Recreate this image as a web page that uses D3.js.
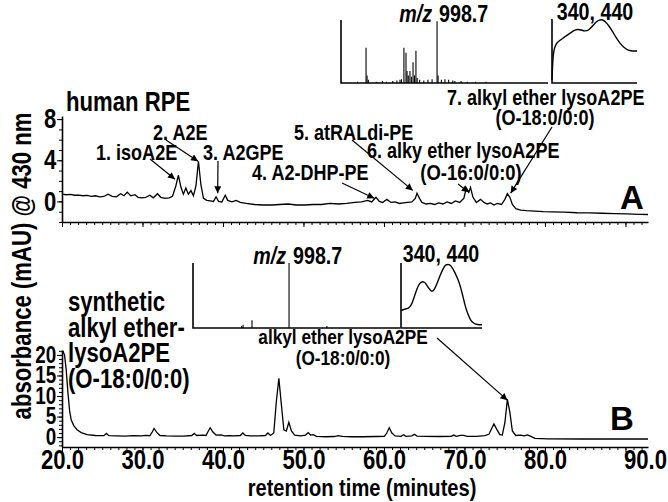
<!DOCTYPE html>
<html>
<head>
<meta charset="utf-8">
<script src="https://cdn.jsdelivr.net/npm/d3@7"></script>
<style>
	body { margin: 0; background: #fff; }
	svg { display: block; font-family: "Liberation Sans", Arial, sans-serif; font-weight: bold; }
</style>
</head>
<body>
<div id="wrapper"></div>
<script>
/////////////////////////////////////////////////
// data /////////////////////////////////////////
/////////////////////////////////////////////////

// [retention time (min), absorbance (mAU)]
const traceA = [
	[20.0, 0.70], [20.52, 0.65], [21.04, 0.68], [21.56, 0.6], [22.08, 0.62], [22.6, 0.55], [23.12, 0.58],
	[23.64, 0.5], [24.16, 0.55], [24.68, 0.45], [25.2, 0.48], [25.72, 0.7], [26.24, 0.5], [26.76, 0.45],
	[27.28, 0.75], [27.7, 0.55], [28.11, 0.9], [28.53, 0.55], [29.05, 0.65], [29.46, 0.4], [29.88, 0.35],
	[30.4, 0.4], [30.92, 0.6], [31.34, 0.35], [31.86, 0.75], [32.27, 0.4], [32.79, 0.3], [33.31, 0.35],
	[33.73, 0.5], [34.14, 1.5], [34.46, 2.55], [34.77, 1.4], [35.08, 0.7], [35.39, 1.3], [35.7, 0.7],
	[36.02, 1.05], [36.33, 0.55], [36.64, 1.5], [36.95, 3.9], [37.26, 1.6], [37.58, 0.3], [37.99, 0.1],
	[38.41, 0.05], [38.82, 0.0], [39.14, 0.45], [39.45, 0.0], [39.86, -0.05], [40.28, 0.6], [40.59, 0.1],
	[41.11, -0.05], [41.63, 0.1], [42.15, -0.1], [42.88, -0.2], [43.92, -0.3], [44.96, -0.35], [46.0, -0.35],
	[47.04, -0.3], [48.08, -0.25], [49.12, -0.35], [50.16, -0.35], [51.2, -0.3], [52.24, -0.3], [53.28, -0.2],
	[54.32, -0.25], [55.36, -0.2], [56.4, -0.1], [57.23, -0.05], [57.96, 0.1], [58.48, -0.05], [59.0, 0.4],
	[59.42, 0.0], [59.83, -0.1], [60.35, 0.2], [60.87, -0.1], [61.39, -0.05], [61.91, -0.2], [62.43, -0.15],
	[62.95, -0.1], [63.47, -0.05], [63.89, 0.3], [64.1, 0.8], [64.41, 0.3], [64.72, -0.1], [65.24, -0.25],
	[65.76, -0.2], [66.28, -0.3], [66.8, -0.15], [67.32, -0.25], [67.84, -0.05], [68.36, -0.2], [68.88, 0.05],
	[69.4, -0.1], [69.92, 0.3], [70.23, 1.3], [70.54, 0.9], [70.75, 1.35], [71.06, 0.4], [71.48, -0.1],
	[72.0, 0.2], [72.42, -0.1], [72.83, -0.25], [73.25, -0.15], [73.66, -0.35], [74.08, -0.2], [74.6, -0.3],
	[75.02, 0.2], [75.33, 0.75], [75.64, 0.4], [75.95, -0.3], [76.37, -0.7], [76.99, -0.85], [77.72, -0.9],
	[78.76, -0.95], [79.8, -1.0], [80.84, -1.02], [82.4, -1.05], [83.96, -1.1], [85.52, -1.12], [87.08, -1.15],
	[88.64, -1.18], [90.2, -1.22], [91.76, -1.25], [92.8, -1.27]
];

const traceB = [
	[20.1, 21.0], [20.31, 20.0], [20.52, 16.5], [20.73, 11.0], [20.94, 6.5], [21.14, 4.2], [21.46, 2.8],
	[21.87, 1.8], [22.39, 1.1], [23.12, 0.6], [24.16, 0.4], [25.2, 0.35], [25.51, 0.9], [25.82, 0.35],
	[26.76, 0.3], [27.8, 0.25], [28.84, 0.35], [29.88, 0.3], [30.4, 0.45], [30.92, 0.35], [31.23, 1.3],
	[31.44, 2.1], [31.75, 1.2], [32.17, 0.4], [33.0, 0.3], [34.04, 0.25], [35.08, 0.25], [36.12, 0.4],
	[36.43, 0.9], [36.74, 0.4], [37.47, 0.5], [37.89, 0.4], [38.1, 1.2], [38.41, 2.3], [38.72, 1.3],
	[39.14, 0.5], [39.76, 0.55], [40.18, 0.3], [40.8, 0.35], [41.32, 0.3], [42.15, 0.4], [42.46, 1.0],
	[42.78, 0.4], [43.4, 0.3], [44.44, 0.3], [45.27, 0.4], [45.58, 1.0], [45.9, 0.4], [46.31, 1.0],
	[46.62, 8.5], [46.94, 14.3], [47.25, 8.0], [47.56, 1.8], [47.87, 1.5], [48.18, 3.6], [48.5, 1.5],
	[48.91, 0.5], [49.64, 0.3], [50.26, 0.5], [50.58, 1.1], [50.89, 0.5], [51.2, 0.6], [51.62, 0.2],
	[52.76, 0.1], [53.8, 0.15], [54.32, 0.35], [54.84, 0.2], [55.88, 0.1], [57.44, 0.1], [59.0, 0.15],
	[60.04, 0.2], [60.35, 1.0], [60.66, 2.3], [60.98, 1.0], [61.39, 0.3], [62.12, 0.2], [62.43, 0.6],
	[62.74, 0.2], [63.47, 0.3], [63.78, 0.7], [64.1, 0.25], [65.24, 0.2], [66.8, 0.15], [68.36, 0.2],
	[68.67, 0.5], [68.98, 0.2], [69.5, 0.45], [69.92, 0.45], [70.34, 0.2], [71.48, 0.2], [72.52, 0.35],
	[73.04, 0.7], [73.35, 2.0], [73.66, 3.2], [73.98, 2.0], [74.39, 0.6], [74.7, 0.5], [75.02, 3.5],
	[75.33, 9.2], [75.64, 6.0], [75.95, 1.5], [76.37, 0.4], [76.99, 0.5], [77.41, 0.3], [77.82, 0.55],
	[78.24, 0.2], [78.76, -0.3], [80.32, -0.4], [84.48, -0.45], [88.64, -0.45], [92.8, -0.45]
];

// mass spectra insets: [relative position along m/z axis (0-100), relative intensity]
const msA = [
	[8, 0.02], [12.1, 0.56], [12.6, 0.12], [13.2, 0.05], [17, 0.02], [20, 0.03], [22, 0.02],
	[25, 0.03], [27, 0.04], [28.5, 0.05], [29.2, 0.06], [30.4, 0.56], [31.4, 0.48], [31.9, 0.19],
	[32.5, 0.12], [33.3, 0.19], [34.0, 0.1], [34.8, 0.33], [35.5, 0.12], [36.2, 0.51], [36.8, 0.08],
	[38, 0.05], [40, 0.04], [42, 0.05], [44, 0.06], [46.4, 0.98], [46.9, 0.12], [48.5, 0.05],
	[50.2, 0.06], [52, 0.05], [54, 0.04], [55, 0.03], [58, 0.03], [61, 0.02], [65, 0.02], [70, 0.02]
];
const msB = [[23.5, 0.03], [24.2, 0.05], [28.5, 0.12], [46.4, 1.0], [64.7, 0.03]];

// UV-vis spectra insets: [wavelength (nm), relative absorbance]
const uvA = [
	[250, 0.05], [252, 0.25], [255, 0.45], [260, 0.55], [268, 0.62], [280, 0.66], [295, 0.7],
	[310, 0.74], [325, 0.78], [340, 0.82], [355, 0.84], [370, 0.83], [385, 0.81], [400, 0.82],
	[415, 0.88], [430, 0.95], [445, 0.99], [458, 0.99], [470, 0.96], [485, 0.89], [500, 0.8],
	[515, 0.7], [530, 0.62], [545, 0.56], [560, 0.52], [575, 0.5], [590, 0.5], [600, 0.5]
];
const uvB = [
	[250, 0.27], [265, 0.29], [280, 0.3], [292, 0.33], [305, 0.45], [318, 0.6], [330, 0.69],
	[343, 0.72], [355, 0.7], [368, 0.62], [380, 0.56], [392, 0.57], [405, 0.68], [418, 0.8],
	[432, 0.92], [445, 0.98], [458, 0.98], [470, 0.94], [482, 0.86], [495, 0.76], [507, 0.64],
	[518, 0.48], [528, 0.33], [540, 0.2], [552, 0.11], [565, 0.07], [580, 0.05], [600, 0.05]
];

// peak labels in panel A: [label, peak time, absorbance at arrow tip]
const peaksA = [
	["1. isoA2E", 34.04, 2.15],
	["2. A2E", 36.9, 3.9],
	["3. A2GPE", 39.34, 0.8],
	["4. A2-DHP-PE", 58.79, 0.3],
	["5. atRALdi-PE", 63.58, 1.07],
	["6. alky ether lysoA2PE", 70.54, 0.9],
	["7. alkyl ether lysoA2PE", 75.74, 0.8]
];
const peakB = ["alkyl ether lysoA2PE", 75.33, 9.0];

const xTicks = [20, 30, 40, 50, 60, 70, 80, 90];
const yTicksA = [0, 4, 8];
const yTicksB = [0, 5, 10, 15, 20];

/////////////////////////////////////////////////
// chart ////////////////////////////////////////
/////////////////////////////////////////////////

const createChart = () => {
	const width = 668;
	const height = 502;
	// the figure uses a condensed bold face, squeeze Liberation Sans to match
	const cond = 0.82;

	const svg = d3.select("#wrapper").append("svg")
		.attr("width", width)
		.attr("height", height);

	const defs = svg.append("defs");
	defs.append("marker")
		.attr("id", "head")
		.attr("viewBox", "0 0 10 10")
		.attr("refX", 10).attr("refY", 5)
		.attr("markerWidth", 9).attr("markerHeight", 7)
		.attr("markerUnits", "userSpaceOnUse")
		.attr("orient", "auto")
		.append("path")
		.attr("d", "M0,0L10,5L0,10z")
		.attr("fill", "#000");

	/////////////////////////////////////////////////
	// scales ///////////////////////////////////////
	/////////////////////////////////////////////////

	const xScale = d3.scaleLinear().domain([20, 92.8]).range([62, 648]);
	const yScaleA = d3.scaleLinear().domain([-2, 8.3]).range([222, 116]);
	const yScaleB = d3.scaleLinear().domain([-2.4, 21.2]).range([447, 350]);

	const line = (ys) => d3.line()
		.x((d) => xScale(d[0]))
		.y((d) => ys(d[1]));

	/////////////////////////////////////////////////
	// axes /////////////////////////////////////////
	/////////////////////////////////////////////////

	const styleTickText = (sel, size) =>
		sel.attr("font-size", size)
			.attr("font-family", "Liberation Sans, Arial, sans-serif")
			.attr("font-weight", "bold")
			.attr("fill", "#000");

	const drawAxes = (ys, yBottom, majorY, minorY, labelX, fontY) => {
		const g = svg.append("g");

		// x minor ticks
		g.append("g")
			.attr("transform", `translate(0,${yBottom})`)
			.call(d3.axisBottom(xScale).tickValues(d3.range(20, 93, 1)).tickSize(3).tickSizeOuter(0).tickFormat(""))
			.call((a) => a.select(".domain").attr("stroke-width", 1.6));

		const xMajor = g.append("g")
			.attr("transform", `translate(0,${yBottom})`)
			.call(d3.axisBottom(xScale).tickValues(xTicks).tickSize(5).tickSizeOuter(0)
				.tickFormat(labelX ? d3.format(".1f") : ""));
		xMajor.select(".domain").remove();
		styleTickText(xMajor.selectAll("text"), 27)
			.attr("y", 3)
			.attr("transform", `scale(${cond},1)`);
		// last label sits flush with the end of the axis
		xMajor.selectAll(".tick").filter((d) => d === 90).select("text")
			.attr("text-anchor", "end").attr("dx", 50);

		// y minor ticks
		g.append("g")
			.attr("transform", "translate(62,0)")
			.call(d3.axisLeft(ys).tickValues(minorY).tickSize(3).tickSizeOuter(0).tickFormat(""))
			.call((a) => a.select(".domain").attr("stroke-width", 1.6));

		const yMajor = g.append("g")
			.attr("transform", "translate(62,0)")
			.call(d3.axisLeft(ys).tickValues(majorY).tickSize(5).tickSizeOuter(0));
		yMajor.select(".domain").remove();
		styleTickText(yMajor.selectAll("text"), fontY)
			.attr("x", -7)
			.attr("transform", `scale(${cond},1)`);
	};

	drawAxes(yScaleA, 222, yTicksA, d3.range(-2, 9, 1), false, 27);
	drawAxes(yScaleB, 447, yTicksB, d3.range(-2, 22, 1), true, 23);

	/////////////////////////////////////////////////
	// traces ///////////////////////////////////////
	/////////////////////////////////////////////////

	svg.append("path")
		.datum(traceA)
		.attr("d", line(yScaleA))
		.attr("fill", "none")
		.attr("stroke", "#000")
		.attr("stroke-width", 1.3);

	svg.append("path")
		.datum(traceB)
		.attr("d", line(yScaleB))
		.attr("fill", "none")
		.attr("stroke", "#000")
		.attr("stroke-width", 1.3);

	/////////////////////////////////////////////////
	// insets ///////////////////////////////////////
	/////////////////////////////////////////////////

	const drawMS = (data, x0, x1, y0, y1) => {
		const xs = d3.scaleLinear().domain([0, 100]).range([x0, x1]);
		const ys = d3.scaleLinear().domain([0, 1]).range([y0, y1]);
		const g = svg.append("g");
		g.selectAll("line.stick")
			.data(data)
			.join("line")
			.attr("class", "stick")
			.attr("x1", (d) => xs(d[0])).attr("x2", (d) => xs(d[0]))
			.attr("y1", ys(0)).attr("y2", (d) => ys(d[1]))
			.attr("stroke", "#000").attr("stroke-width", 1.1);
		g.append("path")
			.attr("d", `M${x0},${y1}V${y0}H${x1}`)
			.attr("fill", "none").attr("stroke", "#000").attr("stroke-width", 1.6);
	};

	const drawUV = (data, x0, x1, y0, y1) => {
		const xs = d3.scaleLinear().domain([250, 600]).range([x0, x1]);
		const ys = d3.scaleLinear().domain([0, 1]).range([y0, y1]);
		const g = svg.append("g");
		g.append("path")
			.datum(data)
			.attr("d", d3.line().x((d) => xs(d[0])).y((d) => ys(d[1])).curve(d3.curveBasis))
			.attr("fill", "none").attr("stroke", "#000").attr("stroke-width", 1.4);
		g.append("path")
			.attr("d", `M${x0},${y1}V${y0}H${x1}`)
			.attr("fill", "none").attr("stroke", "#000").attr("stroke-width", 1.6);
	};

	drawMS(msA, 341, 548, 83, 20);
	drawUV(uvA, 552, 637, 83, 19);
	drawMS(msB, 193, 400, 328, 263);
	drawUV(uvB, 401, 482, 328, 263);

	/////////////////////////////////////////////////
	// text /////////////////////////////////////////
	/////////////////////////////////////////////////

	const label = (txt, x, y, size, anchor = "start", sx = cond) =>
		svg.append("text")
			.attr("transform", `translate(${x},${y}) scale(${sx},1)`)
			.attr("dy", "0.35em")
			.attr("font-size", size)
			.attr("text-anchor", anchor)
			.text(txt);

	// m/z label split around the base peak line
	const mz = (x, y, size) => {
		label("m/z", x - 4, y, size, "end").attr("font-style", "italic");
		label("998.7", x + 3, y, size);
	};

	mz(436, 14, 24);
	label("340, 440", 595, 12, 24, "middle");
	mz(290, 256, 24);
	label("340, 440", 441, 254, 24, "middle");

	// axis titles
	svg.append("text")
		.attr("transform", `translate(22,266) rotate(-90) scale(${cond},1)`)
		.attr("dy", "0.35em")
		.attr("font-size", 27)
		.attr("text-anchor", "middle")
		.text("absorbance (mAU) @ 430 nm");
	label("retention time (minutes)", 362, 487, 24.5, "middle");

	label("human RPE", 66, 102, 27);
	label("A", 632, 197, 33, "middle", 1);
	label("B", 622, 418, 33, "middle", 1);

	// panel A annotations
	const annA = [
		{ x: 96, y: 152, tail: [150, 159] },
		{ x: 153, y: 132, tail: [166, 140] },
		{ x: 203, y: 152, tail: [218, 161] },
		{ x: 252, y: 172, tail: [342, 183] },
		{ x: 294, y: 132, tail: [352, 140] },
		{ x: 367, y: 150, tail: [458, 184] },
		{ x: 447, y: 97, tail: [552, 127] }
	];
	peaksA.forEach((p, i) => {
		const a = annA[i];
		label(p[0], a.x, a.y, 22);
		svg.append("line")
			.attr("x1", a.tail[0]).attr("y1", a.tail[1])
			.attr("x2", xScale(p[1])).attr("y2", yScaleA(p[2]))
			.attr("stroke", "#000").attr("stroke-width", 1.2)
			.attr("marker-end", "url(#head)");
	});
	label("(O-16:0/0:0)", 471, 172, 22.5, "middle");
	label("(O-18:0/0:0)", 545, 117, 22, "middle");

	// panel B annotations
	["synthetic", "alkyl ether-", "lysoA2PE", "(O-18:0/0:0)"].forEach((t, i) => {
		label(t, 68, 302 + i * 25.5, 27);
	});
	label(peakB[0], 343, 337, 21, "middle");
	label("(O-18:0/0:0)", 343, 358, 21, "middle");
	svg.append("line")
		.attr("x1", 437).attr("y1", 338)
		.attr("x2", xScale(peakB[1])).attr("y2", yScaleB(peakB[2]))
		.attr("stroke", "#000").attr("stroke-width", 1.2)
		.attr("marker-end", "url(#head)");
};

createChart();
</script>
</body>
</html>
